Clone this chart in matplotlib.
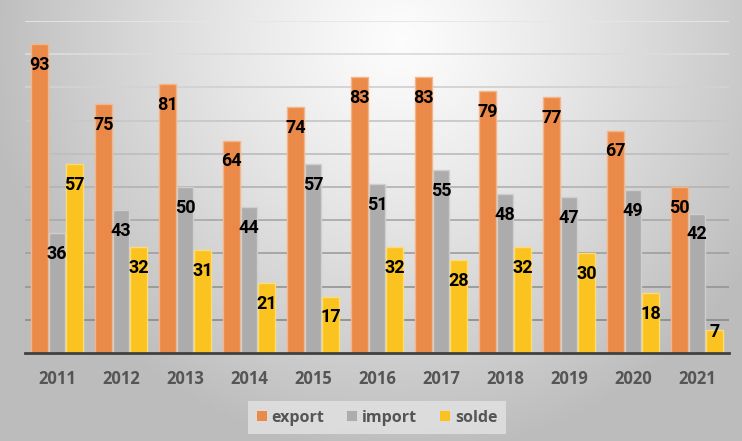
# export / import / solde 2011-2021, barres groupées
import numpy as np
import matplotlib.pyplot as plt
from matplotlib.patches import Patch

annees = ["2011", "2012", "2013", "2014", "2015", "2016", "2017", "2018", "2019", "2020", "2021"]
export = [93, 75, 81, 64, 74, 83, 83, 79, 77, 67, 50]
imports = [36, 43, 50, 44, 57, 51, 55, 48, 47, 49, 42]
solde = [57, 32, 31, 21, 17, 32, 28, 32, 30, 18, 7]

series = [
    ("export", export, "#eb8a48", "#f6b589"),
    ("import", imports, "#acacac", "#cfcfcf"),
    ("solde", solde, "#fbc31f", "#fddc78"),
]

fig = plt.figure(figsize=(7.42, 4.41), dpi=100)

# fond dégradé radial (blanc au centre haut, gris sur les bords)
bg = fig.add_axes([0, 0, 1, 1], zorder=-10)
yy, xx = np.mgrid[0:441, 0:742]
r = np.sqrt(((xx - 400) / 400.0) ** 2 + ((yy - 40) / 400.0) ** 2)
val = np.clip(0.99 - 0.24 * r ** 1.2, 0.74, 1.0)
bg.imshow(np.dstack([val, val, val]), aspect="auto", extent=(0, 1, 0, 1))
bg.set_axis_off()

ax = fig.add_axes([25 / 742, 88 / 441, 704 / 742, 332 / 441])
ax.patch.set_alpha(0)
x = np.arange(len(annees))
w = 0.26
pas = 0.273

# lignes de grille : plus foncées vers le bas
for g in range(10, 101, 10):
    t = g / 100
    c = 0.52 + 0.38 * t
    ax.axhline(g, color=(c, c, c), lw=1.3, zorder=0)

for i, (nom, vals, col, bord) in enumerate(series):
    pos = x + (i - 1) * pas
    ax.bar(pos, vals, width=w, color=col, edgecolor=bord, linewidth=1, zorder=2)
    for px, v in zip(pos, vals):
        yl = max(v - 6.3, 6.3)
        ax.text(px, yl, str(v), ha="center", va="center", fontsize=13,
                fontweight="bold", family="Roboto", color="black", zorder=3)

ax.set_xlim(-0.5, len(annees) - 0.5)
ax.set_ylim(0, 100)
ax.set_yticks([])
ax.set_xticks(x)
ax.set_xticklabels(annees, fontsize=12, fontweight="bold", family="Open Sans", color="#555555")
ax.tick_params(axis="x", length=0, pad=12)
for s in ["top", "right", "left"]:
    ax.spines[s].set_visible(False)
ax.spines["bottom"].set_color("#404040")
ax.spines["bottom"].set_linewidth(2)
ax.spines["bottom"].set_zorder(4)

handles = [Patch(facecolor=c, edgecolor="none", label=n) for n, _, c, _ in series]
leg = fig.legend(handles=handles, loc="center", bbox_to_anchor=(0.508, 0.053), ncol=3,
                 frameon=True, fancybox=False, handlelength=0.65, handleheight=0.65,
                 handletextpad=0.3, columnspacing=1.4, borderpad=0.55,
                 prop={"family": "Open Sans", "weight": "bold", "size": 11.5})
leg.get_frame().set_facecolor("#e3e3e3")
leg.get_frame().set_edgecolor("none")
for t in leg.get_texts():
    t.set_color("#555555")

fig.savefig("out.png", dpi=100)
